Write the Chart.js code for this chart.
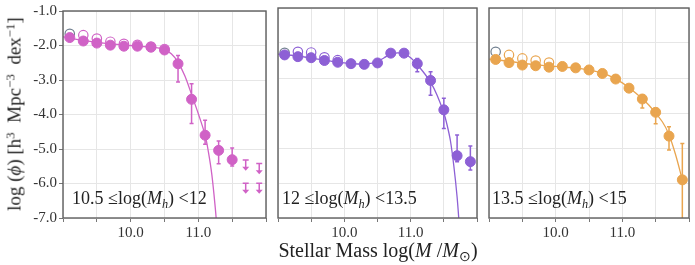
<!DOCTYPE html>
<html>
<head>
<meta charset="utf-8">
<script src="https://cdn.jsdelivr.net/npm/chart.js@4.4.0/dist/chart.umd.min.js"></script>
<style>
  html, body { margin:0; padding:0; background:#fff; }
  #wrap { position:relative; width:695px; height:265px; overflow:hidden; font-family:'Liberation Serif', serif; color:#222; }
  .pan { position:absolute; top:0; }
  .lbl { position:absolute; font-size:18px; line-height:1; white-space:nowrap; color:#222; }
  sup { font-size:68%; vertical-align:0.5em; line-height:0; }
  sub { font-size:68%; vertical-align:-0.3em; line-height:0; }
</style>
</head>
<body>
<div id="wrap">
  <canvas id="c1" class="pan" width="272" height="265" style="left:0px"></canvas>
  <canvas id="c2" class="pan" width="211" height="265" style="left:272px"></canvas>
  <canvas id="c3" class="pan" width="212" height="265" style="left:483px"></canvas>
  <div class="lbl" id="ytitle" style="left:14px; top:114px; font-size:19px; transform:translate(-50%,-50%) rotate(-90deg);">log (<i>ϕ</i>) [h<sup>3</sup>&nbsp; Mpc<sup>−3</sup>&nbsp; dex<sup>−1</sup>]</div>
  <div class="lbl" id="xtitle" style="left:378px; top:250px; font-size:20px; transform:translate(-50%,-50%);">Stellar Mass log(<i>M</i> /<i>M</i><sub>⊙</sub>)</div>
  <div class="lbl" style="left:72px; top:189px;">10.5 ≤log(<i>M<sub>h</sub></i>) &lt;12</div>
  <div class="lbl" style="left:282px; top:189px;">12 ≤log(<i>M<sub>h</sub></i>) &lt;13.5</div>
  <div class="lbl" style="left:492px; top:189px;">13.5 ≤log(<i>M<sub>h</sub></i>) &lt;15</div>
</div>
<script>
// ---------------- data ----------------
const massBins = [9.1, 9.3, 9.5, 9.7, 9.9, 10.1, 10.3, 10.5, 10.7, 10.9, 11.1, 11.3, 11.5, 11.7, 11.9];
const yTicks = [-1, -2, -3, -4, -5, -6, -7];
const xTickLabels = [10.0, 11.0];

// Panel 1: 10.5 <= log(Mh) < 12
const phiLowFilled = [-1.77, -1.87, -1.93, -1.99, -2.02, -2.02, -2.05, -2.13, -2.53, -3.56, -4.60, -5.04, -5.31, null, null];
const errLowLo     = [null, null, null, null, null, null, null, -2.20, -3.06, -4.26, -4.86, -5.43, -5.49, null, null];
const errLowHi     = [null, null, null, null, null, null, null, -2.07, -2.29, -3.11, -4.17, -4.77, -4.97, null, null];
const phiLowOpen   = [null, -1.70, -1.80, -1.89, -1.95, -1.98, -2.03, -2.10];
const phiLowGray   = [-1.66];
const upperLimX    = [11.7, 11.7, 11.9, 11.9];
const upperLimY    = [-5.32, -5.99, -5.42, -5.99];
const fitLowX = [9.0, 9.2, 9.4, 9.6, 9.8, 10.0, 10.2, 10.4, 10.5, 10.6, 10.7, 10.8, 10.9, 11.0, 11.1, 11.15, 11.2, 11.25, 11.28];
const fitLowY = [-1.75, -1.82, -1.88, -1.93, -1.97, -2.00, -2.03, -2.07, -2.12, -2.24, -2.48, -2.88, -3.42, -3.98, -4.60, -5.10, -5.75, -6.70, -7.40];

// Panel 2: 12 <= log(Mh) < 13.5
const phiMidFilled = [-2.34, -2.39, -2.42, -2.50, -2.55, -2.59, -2.61, -2.57, -2.29, -2.29, -2.59, -3.07, -3.91, -5.22, -5.39];
const errMidLo     = [null, null, null, null, null, null, null, null, null, null, -2.82, -3.49, -4.44, -5.39, -5.63];
const errMidHi     = [null, null, null, null, null, null, null, null, null, null, -2.44, -2.82, -3.58, -4.63, -4.94];
const phiMidOpen   = [null, -2.25, -2.27, -2.41, -2.49];
const phiMidGray   = [-2.28];
const fitMidX = [9.0, 9.2, 9.4, 9.6, 9.8, 10.0, 10.2, 10.4, 10.5, 10.6, 10.7, 10.8, 10.9, 11.0, 11.1, 11.2, 11.3, 11.4, 11.5, 11.55, 11.6, 11.65, 11.7, 11.74];
const fitMidY = [-2.32, -2.35, -2.40, -2.46, -2.52, -2.57, -2.60, -2.58, -2.53, -2.42, -2.32, -2.28, -2.31, -2.42, -2.62, -2.85, -3.12, -3.50, -4.00, -4.35, -4.80, -5.50, -6.40, -7.40];

// Panel 3: 13.5 <= log(Mh) < 15
const phiHighFilled = [-2.47, -2.56, -2.63, -2.65, -2.69, -2.67, -2.71, -2.77, -2.87, -3.03, -3.29, -3.60, -3.98, -4.66, -5.91];
const errHighLo     = [null, null, null, null, null, null, null, null, null, -3.10, -3.35, -3.86, -4.31, -5.06, -7.50];
const errHighHi     = [null, null, null, null, null, null, null, null, null, -2.97, -3.23, -3.49, -3.87, -4.39, -4.87];
const phiHighOpen   = [null, -2.34, -2.44, -2.50, -2.56];
const phiHighGray   = [-2.25];
const fitHighX = [9.0, 9.2, 9.4, 9.6, 9.8, 10.0, 10.2, 10.4, 10.6, 10.8, 11.0, 11.2, 11.4, 11.6, 11.7, 11.8, 11.9];
const fitHighY = [-2.46, -2.50, -2.55, -2.60, -2.64, -2.67, -2.70, -2.74, -2.81, -2.93, -3.14, -3.43, -3.78, -4.25, -4.62, -5.20, -5.91];

// ---------------- helpers ----------------
const PINK = '#d062c6', PURPLE = '#8d60d5', ORANGE = '#e9a54f', GRAY = '#6f7e8e';
const FONT = "'Liberation Serif', serif";

function pts(xs, ys) {
  const out = [];
  for (let i = 0; i < ys.length; i++) if (ys[i] !== null && ys[i] !== undefined) out.push({x: xs[i], y: ys[i]});
  return out;
}

const errPlugin = {
  id: 'errbars',
  beforeDatasetsDraw(chart, args, opts) {
    const ctx = chart.ctx, xs = chart.scales.x, ys = chart.scales.y, a = chart.chartArea;
    ctx.save();
    ctx.beginPath(); ctx.rect(a.left, a.top, a.right - a.left, a.bottom - a.top); ctx.clip();
    ctx.strokeStyle = opts.color; ctx.fillStyle = opts.color; ctx.lineWidth = 1.5;
    (opts.lo || []).forEach((lo, i) => {
      const hi = opts.hi[i];
      if (lo === null || hi === null) return;
      const px = xs.getPixelForValue(massBins[i]);
      const p1 = ys.getPixelForValue(lo), p2 = ys.getPixelForValue(hi);
      ctx.beginPath(); ctx.moveTo(px, p1); ctx.lineTo(px, p2);
      ctx.moveTo(px - 2, p1); ctx.lineTo(px + 2, p1);
      ctx.moveTo(px - 2, p2); ctx.lineTo(px + 2, p2);
      ctx.stroke();
    });
    (opts.ulX || []).forEach((ux, i) => {
      const px = xs.getPixelForValue(ux);
      const top = ys.getPixelForValue(opts.ulY[i]);
      const tip = ys.getPixelForValue(opts.ulY[i] - 0.31);
      ctx.beginPath();
      ctx.moveTo(px - 3, top); ctx.lineTo(px + 3, top);
      ctx.moveTo(px, top); ctx.lineTo(px, tip - 3);
      ctx.stroke();
      ctx.beginPath();
      ctx.moveTo(px - 3.5, tip - 4); ctx.lineTo(px + 3.5, tip - 4); ctx.lineTo(px, tip); ctx.closePath();
      ctx.fill();
    });
    ctx.restore();
  },
  afterDraw(chart) {
    const ctx = chart.ctx, a = chart.chartArea;
    ctx.save();
    ctx.strokeStyle = '#5e5e5e'; ctx.lineWidth = 1.4;
    ctx.strokeRect(a.left, a.top, a.right - a.left, a.bottom - a.top);
    ctx.restore();
  }
};

function makePanel(id, cfg) {
  const first = cfg.first;
  const datasets = [
    { type: 'scatter', data: pts(massBins, cfg.filled), backgroundColor: cfg.color, borderColor: cfg.color,
      pointRadius: 5, pointBorderWidth: 1, order: 0 },
    { type: 'scatter', data: pts(massBins, cfg.gray), backgroundColor: 'rgba(0,0,0,0)', borderColor: GRAY,
      pointRadius: 4.7, pointBorderWidth: 1.2, order: 1 },
    { type: 'scatter', data: pts(massBins, cfg.open), backgroundColor: 'rgba(255,255,255,0)', borderColor: cfg.color,
      pointRadius: 4.7, pointBorderWidth: 1.2, order: 2 },
    { type: 'line', data: pts(cfg.fitX, cfg.fitY), borderColor: cfg.color, borderWidth: 1.3, pointRadius: 0,
      tension: 0.35, fill: false, order: 3 }
  ];
  return new Chart(document.getElementById(id), {
    data: { datasets },
    options: {
      responsive: false, animation: false, devicePixelRatio: 1,
      layout: { padding: { top: 8, right: cfg.padRight, left: first ? 0 : 2, bottom: 0 } },
      plugins: { legend: { display: false }, tooltip: { enabled: false },
        errbars: { color: cfg.color, lo: cfg.errLo, hi: cfg.errHi, ulX: cfg.ulX, ulY: cfg.ulY } },
      scales: {
        x: { type: 'linear', min: 9.0, max: 12.0,
          afterBuildTicks: s => { const t = []; for (let k = 0; k <= 6; k++) t.push({value: 9.0 + 0.5 * k}); s.ticks = t; },
          afterFit: s => { s.height = 47; },
          grid: { color: '#e6e6e6', lineWidth: 1, drawTicks: true, tickLength: 4, tickColor: '#777' },
          border: { display: false },
          ticks: { autoSkip: false, maxRotation: 0, padding: 2, color: '#333', font: { family: FONT, size: 15 },
            callback: v => xTickLabels.some(t => Math.abs(t - v) < 1e-6) ? v.toFixed(1) : '' } },
        y: { type: 'linear', min: -7, max: -1,
          afterBuildTicks: s => { s.ticks = yTicks.map(v => ({value: v})); },
          afterFit: s => { s.width = first ? 63 : 0; },
          grid: { color: '#e6e6e6', lineWidth: 1, drawTicks: first, tickLength: 4, tickColor: '#777' },
          border: { display: false },
          ticks: { display: first, padding: 2, color: '#333', font: { family: FONT, size: 15 },
            callback: v => v.toFixed(1) } }
      }
    },
    plugins: [errPlugin]
  });
}

makePanel('c1', { first: true, padRight: 2, color: PINK, filled: phiLowFilled, open: phiLowOpen, gray: phiLowGray,
  errLo: errLowLo, errHi: errLowHi, ulX: upperLimX, ulY: upperLimY, fitX: fitLowX, fitY: fitLowY });
makePanel('c2', { first: false, padRight: 2, color: PURPLE, filled: phiMidFilled, open: phiMidOpen, gray: phiMidGray,
  errLo: errMidLo, errHi: errMidHi, fitX: fitMidX, fitY: fitMidY });
makePanel('c3', { first: false, padRight: 3, color: ORANGE, filled: phiHighFilled, open: phiHighOpen, gray: phiHighGray,
  errLo: errHighLo, errHi: errHighHi, fitX: fitHighX, fitY: fitHighY });
</script>
</body>
</html>
